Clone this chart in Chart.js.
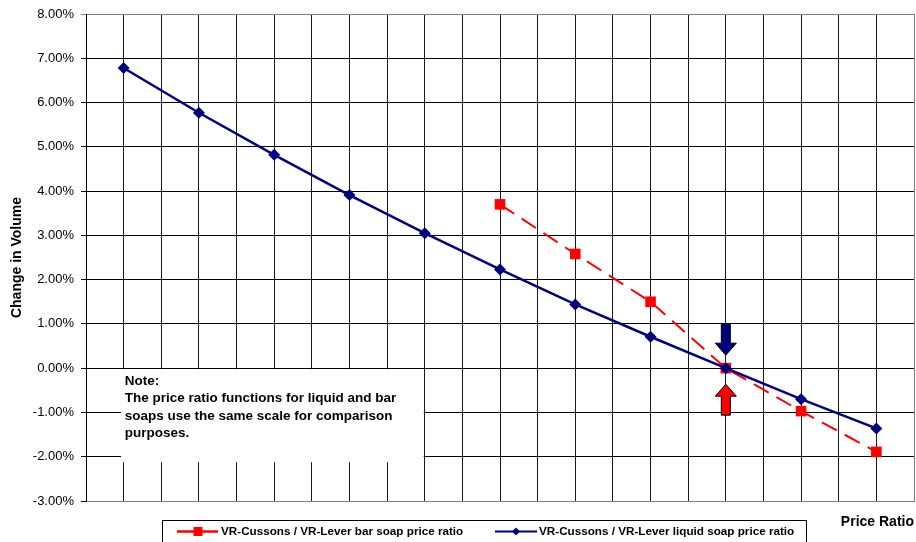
<!DOCTYPE html>
<html>
<head>
<meta charset="utf-8">
<script src="https://cdn.jsdelivr.net/npm/chart.js@4"></script>
<style>
  html, body { margin: 0; padding: 0; background: #fff; }
  canvas { display: block; }
</style>
</head>
<body>
<canvas id="chart" width="916" height="542"></canvas>
<script>
// Price-ratio steps (x) and volume change in % (y) for each soap type
const liquidRatioSteps = [1, 3, 5, 7, 9, 11, 13, 15, 17, 19, 21];
const liquidVolumeChange = [6.78, 5.77, 4.82, 3.91, 3.05, 2.23, 1.44, 0.71, 0.00, -0.70, -1.36];
const barRatioSteps = [11, 13, 15, 17, 19, 21];
const barVolumeChange = [3.70, 2.58, 1.50, 0.00, -0.97, -1.89];

const seriesLabels = [
  'VR-Cussons / VR-Lever bar soap price ratio',
  'VR-Cussons / VR-Lever liquid soap price ratio'
];
const xAxisTitle = 'Price Ratio';
const yAxisTitle = 'Change in Volume';
const noteLines = [
  'Note:',
  'The price ratio functions for liquid and bar',
  'soaps use the same scale for comparison',
  'purposes.'
];
// Step where both ratio functions cross zero (marked with arrows)
const parityStep = 17;
const parityValue = 0;

const FONT = '"Liberation Sans", Arial, Helvetica, sans-serif';
const RED = '#ff0000';
const NAVY = '#000080';

const toPoints = (xs, ys) => xs.map((x, i) => ({ x: x, y: ys[i] }));

function arrow(ctx, x, tipY, dir, fill) {
  // dir = 1: pointing down, dir = -1: pointing up
  const shaftW = 9, headW = 21, headL = 12, total = 31;
  const baseY = tipY - dir * headL;
  const tailY = tipY - dir * total;
  ctx.beginPath();
  ctx.moveTo(x - shaftW / 2, tailY);
  ctx.lineTo(x + shaftW / 2, tailY);
  ctx.lineTo(x + shaftW / 2, baseY);
  ctx.lineTo(x + headW / 2, baseY);
  ctx.lineTo(x, tipY);
  ctx.lineTo(x - headW / 2, baseY);
  ctx.lineTo(x - shaftW / 2, baseY);
  ctx.closePath();
  ctx.fillStyle = fill;
  ctx.fill();
  ctx.lineWidth = 1;
  ctx.strokeStyle = '#000';
  ctx.stroke();
}

const decorations = {
  id: 'decorations',
  beforeDatasetsDraw(chart) {
    // White note panel over the grid
    const { ctx, scales: { x, y } } = chart;
    const left = x.getPixelForValue(1) - 2.5;
    const right = x.getPixelForValue(9) - 1;
    const top = y.getPixelForValue(0) + 1;
    const bottom = top + 93;
    ctx.save();
    ctx.fillStyle = '#fff';
    ctx.fillRect(left, top, right - left, bottom - top);
    ctx.fillStyle = '#000';
    ctx.font = 'bold 13.5px ' + FONT;
    ctx.textBaseline = 'middle';
    ctx.textAlign = 'left';
    noteLines.forEach((line, i) => {
      ctx.fillText(line, left + 3.5, top + 12 + i * 17.3);
    });
    ctx.restore();
  },
  afterDatasetsDraw(chart) {
    const { ctx, scales: { x, y } } = chart;
    const px = x.getPixelForValue(parityStep);
    const py = y.getPixelForValue(parityValue);
    ctx.save();
    arrow(ctx, px, py - 13, 1, NAVY);
    arrow(ctx, px, py + 16, -1, RED);
    ctx.restore();
  },
  afterDraw(chart) {
    const { ctx, chartArea } = chart;
    ctx.save();
    // Axis titles
    ctx.fillStyle = '#000';
    ctx.font = 'bold 14px ' + FONT;
    ctx.textBaseline = 'middle';
    ctx.textAlign = 'right';
    ctx.fillText(xAxisTitle, 914, 522);
    ctx.save();
    ctx.translate(17, (chartArea.top + chartArea.bottom) / 2);
    ctx.rotate(-Math.PI / 2);
    ctx.textAlign = 'center';
    ctx.fillText(yAxisTitle, 0, 0);
    ctx.restore();

    // Legend box
    ctx.strokeStyle = '#000';
    ctx.lineWidth = 1;
    ctx.strokeRect(162.5, 520.5, 644, 40);
    ctx.font = 'bold 11.7px ' + FONT;
    ctx.textAlign = 'left';
    const ly = 531.5;
    // bar soap entry
    ctx.strokeStyle = RED;
    ctx.lineWidth = 2.5;
    ctx.beginPath();
    ctx.moveTo(177, ly); ctx.lineTo(218, ly);
    ctx.stroke();
    ctx.fillStyle = RED;
    ctx.fillRect(193.5, ly - 4.5, 9, 9);
    ctx.fillStyle = '#000';
    ctx.fillText(seriesLabels[0], 221, ly);
    // liquid soap entry
    ctx.strokeStyle = NAVY;
    ctx.lineWidth = 2;
    ctx.beginPath();
    ctx.moveTo(495, ly); ctx.lineTo(537, ly);
    ctx.stroke();
    ctx.fillStyle = NAVY;
    ctx.beginPath();
    ctx.moveTo(516, ly - 4); ctx.lineTo(520, ly); ctx.lineTo(516, ly + 4); ctx.lineTo(512, ly);
    ctx.closePath();
    ctx.fill();
    ctx.fillStyle = '#000';
    ctx.fillText(seriesLabels[1], 539, ly);
    ctx.restore();
  }
};

new Chart(document.getElementById('chart'), {
  type: 'line',
  data: {
    datasets: [
      {
        label: seriesLabels[0],
        data: toPoints(barRatioSteps, barVolumeChange),
        borderColor: RED,
        backgroundColor: RED,
        borderWidth: 2,
        borderDash: [17, 9],
        pointStyle: 'rect',
        pointRadius: 7.5,
        pointBorderWidth: 0,
        order: 1
      },
      {
        label: seriesLabels[1],
        data: toPoints(liquidRatioSteps, liquidVolumeChange),
        borderColor: NAVY,
        backgroundColor: NAVY,
        borderWidth: 2.5,
        pointStyle: 'rectRot',
        pointRadius: 6,
        pointBorderWidth: 0,
        order: 0
      }
    ]
  },
  options: {
    responsive: false,
    animation: false,
    devicePixelRatio: 1,
    layout: { autoPadding: false, padding: { top: 14, right: 2, bottom: 41, left: 0 } },
    plugins: { legend: { display: false }, tooltip: { enabled: false } },
    scales: {
      x: {
        type: 'linear',
        min: 0,
        max: 22,
        afterFit(scale) {
          scale.height = 0;
          scale.paddingLeft = 0;
          scale.paddingRight = 0;
        },
        ticks: { display: false, stepSize: 1 },
        grid: {
          drawTicks: false,
          lineWidth: 1,
          color: (c) => (c.tick && c.tick.value === 22 ? '#808080' : '#1a1a1a')
        },
        border: { color: '#808080', width: 1 }
      },
      y: {
        type: 'linear',
        min: -3,
        max: 8,
        afterFit(scale) {
          scale.width = 86;
          scale.paddingTop = 0;
          scale.paddingBottom = 0;
        },
        ticks: {
          stepSize: 1,
          padding: 7,
          color: '#000',
          font: { family: FONT, size: 13 },
          callback: (v) => v.toFixed(2) + '%'
        },
        grid: {
          tickLength: 5,
          lineWidth: 1,
          color: (c) => (c.tick && c.tick.value === 8 ? '#808080' : '#000')
        },
        border: { color: '#000', width: 1 }
      }
    }
  },
  plugins: [decorations]
});
</script>
</body>
</html>
